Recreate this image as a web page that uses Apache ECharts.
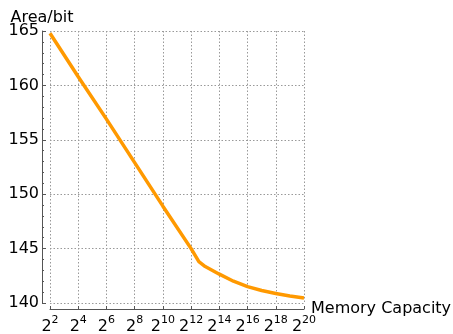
<!DOCTYPE html>
<html>
<head>
<meta charset="utf-8">
<script src="https://cdn.jsdelivr.net/npm/echarts@6/dist/echarts.min.js"></script>
<style>html,body{margin:0;padding:0;background:#fff;}#c{width:453px;height:334px;}</style>
</head>
<body>
<div id="c"></div>
<script>
// Memory capacity as exponent of 2
var exponents = [2, 4, 6, 8, 10, 12, 12.55, 13, 14, 15, 16, 17, 18, 19, 20];
var areaPerBit = [164.8, 160.8, 156.9, 152.9, 148.9, 145.0, 143.8, 143.35, 142.65, 142.0, 141.5, 141.15, 140.88, 140.65, 140.45];
var yTicks = [140, 145, 150, 155, 160, 165];
var xTickExponents = [2, 4, 6, 8, 10, 12, 14, 16, 18, 20];

var seriesData = exponents.map(function (e, i) { return [e, areaPerBit[i]]; });
var FONT = 'DejaVu Sans';
var chart = echarts.init(document.getElementById('c'), null, { renderer: 'canvas' });
chart.setOption({
  animation: false,
  backgroundColor: '#fff',
  grid: { left: 50, right: 149, top: 31, bottom: 31, containLabel: false, outerBoundsMode: 'none' },
  xAxis: {
    type: 'value',
    min: xTickExponents[0],
    max: xTickExponents[xTickExponents.length - 1],
    interval: 2,
    offset: 6,
    name: 'Memory Capacity',
    nameLocation: 'end',
    nameGap: 7,
    nameMoveOverlap: false,
    nameTextStyle: { fontFamily: FONT, fontSize: 16, color: '#000', padding: [0, 0, 6, 0] },
    axisLine: { show: true, onZero: false, lineStyle: { color: '#555', width: 1 } },
    axisTick: { show: true, inside: true, length: 3, lineStyle: { color: '#555' } },
    splitLine: { show: true, lineStyle: { color: '#999', type: [1.5, 2], width: 1 } },
    axisLabel: {
      margin: 6,
      formatter: function (v) { return '{b|2}{s|' + v + '}'; },
      rich: {
        b: { fontFamily: FONT, fontSize: 16, color: '#000', lineHeight: 20, verticalAlign: 'bottom' },
        s: { fontFamily: FONT, fontSize: 11, color: '#000', lineHeight: 20, verticalAlign: 'top' }
      }
    }
  },
  yAxis: {
    type: 'value',
    min: yTicks[0],
    max: yTicks[yTicks.length - 1],
    interval: 5,
    offset: 8,
    name: 'Area/bit',
    nameLocation: 'end',
    nameGap: 5,
    nameMoveOverlap: false,
    nameTextStyle: { fontFamily: FONT, fontSize: 16, color: '#000', align: 'center' },
    axisLine: { show: true, lineStyle: { color: '#555', width: 1 } },
    axisTick: { show: true, inside: true, length: 4, lineStyle: { color: '#555' } },
    minorTick: { show: true, splitNumber: 5, length: 2, lineStyle: { color: '#555' } },
    splitLine: { show: true, lineStyle: { color: '#999', type: [1.5, 2], width: 1 } },
    axisLabel: { margin: 3, fontFamily: FONT, fontSize: 16, color: '#000' }
  },
  series: [{
    type: 'line',
    data: seriesData,
    showSymbol: false,
    smooth: false,
    lineStyle: { color: '#FF9900', width: 3.5 },
    clip: false
  }]
});
</script>
</body>
</html>
